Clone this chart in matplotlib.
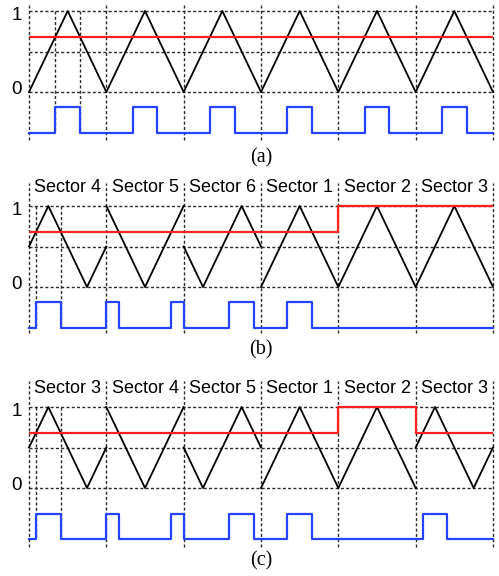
import numpy as np
import matplotlib
matplotlib.use("Agg")
import matplotlib.pyplot as plt

# ---- data (time in carrier periods, one sector = one period) ----
n_sectors = 6

# panel (a): plain triangular carrier
carrier_t_a = [0, 0.5, 1, 1.5, 2, 2.5, 3, 3.5, 4, 4.5, 5, 5.5, 6]
carrier_v_a = [0, 1, 0, 1, 0, 1, 0, 1, 0, 1, 0, 1, 0]
reference_a = [0.68, 0.68, 0.68, 0.68, 0.68, 0.68]

# panel (b): carrier phase shifted per sector (NaN = break between sectors)
carrier_t_b = [0, 0.25, 0.75, 1, np.nan, 1, 1.5, 2, np.nan, 2, 2.25, 2.75, 3,
               np.nan, 3, 3.5, 4, 4.5, 5, 5.5, 6]
carrier_v_b = [0.5, 1, 0, 0.5, np.nan, 1, 0, 1, np.nan, 0.5, 0, 1, 0.5,
               np.nan, 0, 1, 0, 1, 0, 1, 0]
reference_b = [0.68, 0.68, 0.68, 0.68, 1.0, 1.0]
sectors_b = ["Sector 4", "Sector 5", "Sector 6", "Sector 1", "Sector 2", "Sector 3"]

# panel (c)
carrier_t_c = [0, 0.25, 0.75, 1, np.nan, 1, 1.5, 2, np.nan, 2, 2.25, 2.75, 3,
               np.nan, 3, 3.5, 4, 4.5, 5, np.nan, 5, 5.25, 5.75, 6]
carrier_v_c = [0.5, 1, 0, 0.5, np.nan, 1, 0, 1, np.nan, 0.5, 0, 1, 0.5,
               np.nan, 0, 1, 0, 1, 0, np.nan, 0.5, 1, 0, 0.5]
reference_c = [0.68, 0.68, 0.68, 0.68, 1.0, 0.68]
sectors_c = ["Sector 3", "Sector 4", "Sector 5", "Sector 1", "Sector 2", "Sector 3"]

# gate signal levels (high, low) for each panel
gate_a = (-0.19, -0.5)
gate_b = (-0.19, -0.5)
gate_c = (-0.32, -0.63)

# ---- styles ----
W, H = 499, 576
RED = "#ff1f1f"
BLUE = "#2442ff"
DASH = dict(color="#2a2a2a", lw=1.0, linestyle=(0, (2.2, 1.6)), zorder=1)
SANS = ["Liberation Sans", "Arial", "DejaVu Sans"]
SERIF = ["Liberation Serif", "Times New Roman", "DejaVu Serif"]

X0_PX, X1_PX = 29.0, 493.0
XPAD = 0.06


def place(fig, y1px, y0px, ylo, yhi):
    """Add axes so that data y=1 sits at y1px and y=0 at y0px (pixels from top)."""
    s = y0px - y1px
    top = y1px - (yhi - 1) * s
    bot = y0px - ylo * s
    p = (X1_PX - X0_PX) / n_sectors
    left = X0_PX - XPAD * p
    right = X1_PX + XPAD * p
    ax = fig.add_axes([left / W, 1 - bot / H, (right - left) / W, (bot - top) / H])
    ax.set_xlim(-XPAD, n_sectors + XPAD)
    ax.set_ylim(ylo, yhi)
    ax.axis("off")
    return ax


def high_intervals(t, v, ref):
    """Intervals where the carrier lies above the sector reference."""
    out = []
    for i in range(len(t) - 1):
        t0, t1, v0, v1 = t[i], t[i + 1], v[i], v[i + 1]
        if np.isnan([t0, t1, v0, v1]).any() or t1 <= t0:
            continue
        m = ref[min(int((t0 + t1) / 2), len(ref) - 1)]
        if v0 > m and v1 > m:
            seg = (t0, t1)
        elif v0 > m or v1 > m:
            tc = t0 + (m - v0) / (v1 - v0) * (t1 - t0)
            seg = (t0, tc) if v0 > m else (tc, t1)
        else:
            continue
        if out and abs(out[-1][1] - seg[0]) < 1e-9:
            out[-1] = (out[-1][0], seg[1])
        else:
            out.append(seg)
    return out


def draw_panel(ax, t, v, ref, gate, v_top, v_bot, cross_lines, labels=None):
    hi, lo = gate
    # grid
    for y in (0, 0.5, 1):
        ax.plot([0, n_sectors], [y, y], **DASH)
    for k in range(n_sectors + 1):
        ax.plot([k, k], [v_bot, v_top], **DASH)
    pulses = high_intervals(np.array(t, float), np.array(v, float), ref)
    for tc in cross_lines:
        ax.plot([tc, tc], [1.0, lo], **DASH)
    # carrier and reference
    ax.plot(t, v, color="black", lw=1.3, zorder=3, clip_on=False)
    ax.stairs(ref, np.arange(n_sectors + 1), baseline=None, color=RED, lw=1.6,
              zorder=4, clip_on=False)
    # gate signal
    xs, ys = [0], [lo]
    for a, b in pulses:
        xs += [a, a, b, b]
        ys += [lo, hi, hi, lo]
    xs.append(n_sectors)
    ys.append(lo)
    ax.plot(xs, ys, color=BLUE, lw=1.6, zorder=4, clip_on=False)
    # value labels
    ax.text(-0.09, 0.95, "1", ha="right", va="center", fontsize=13.5, family=SANS)
    ax.text(-0.09, 0.03, "0", ha="right", va="center", fontsize=13.5, family=SANS)
    if labels:
        for k, lab in enumerate(labels):
            ax.text(k + 0.5, 1.23, lab, ha="center", va="center", fontsize=13,
                    family=SANS)
    return pulses


fig = plt.figure(figsize=(W / 100, H / 100), dpi=100)

ax_a = place(fig, 11, 92, -0.65, 1.13)
draw_panel(ax_a, carrier_t_a, carrier_v_a, reference_a, gate_a, 1.1, -0.59,
           cross_lines=[0.34, 0.66])

ax_b = place(fig, 206, 287, -0.65, 1.35)
draw_panel(ax_b, carrier_t_b, carrier_v_b, reference_b, gate_b, 1.29, -0.57,
           cross_lines=[0.09, 0.41], labels=sectors_b)

ax_c = place(fig, 407, 488, -0.8, 1.4)
draw_panel(ax_c, carrier_t_c, carrier_v_c, reference_c, gate_c, 1.32, -0.73,
           cross_lines=[0.09, 0.41], labels=sectors_c)

for lab, ypx in (("(a)", 158), ("(b)", 350), ("(c)", 561)):
    fig.text(261 / W, 1 - ypx / H, lab, ha="center", va="center", fontsize=14.5,
             family=SERIF)

fig.savefig("out.png", dpi=100)
